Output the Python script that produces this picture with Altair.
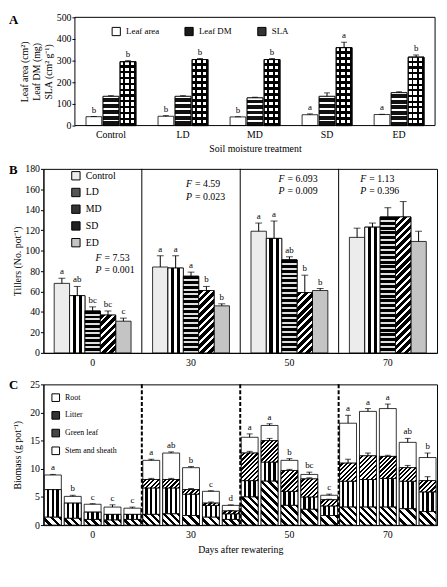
import math
import altair as alt
import pandas as pd

FONT = "Liberation Serif"

treat = ["Control", "LD", "MD", "SD", "ED"]
days = ["0", "30", "50", "70"]

# ---------------- Panel A ----------------
series_a = ["Leaf area", "Leaf DM", "SLA"]
leaf_area = [41, 43, 40, 50, 51]
leaf_area_err = [1, 3, 1, 4, 1]
leaf_area_let = ["b", "b", "b", "a", "a"]
leaf_dm = [135, 135, 128, 135, 152]
leaf_dm_err = [3, 3, 3, 16, 4]
sla = [295, 305, 305, 360, 316]
sla_err = [5, 5, 5, 25, 10]
sla_let = ["b", "b", "b", "a", "b"]

# ---------------- Panel B (tillers) ----------------
till_d0 = [68, 56, 41, 37, 31]
till_d30 = [84, 83, 75, 61, 46]
till_d50 = [119, 112, 91, 59, 61]
till_d70 = [113, 123, 133, 133, 109]
till_err_d0 = [5, 9, 4, 4, 3]
till_err_d30 = [11, 12, 4, 4, 2]
till_err_d50 = [8, 17, 3, 17, 2]
till_err_d70 = [9, 4, 9, 15, 10]
till_let_d0 = ["a", "ab", "bc", "bc", "c"]
till_let_d30 = ["a", "a", "a", "b", "b"]
till_let_d50 = ["a", "a", "ab", "b", "b"]
till_let_d70 = ["", "", "", "", ""]
fp_F = ["= 7.53", "= 4.59", "= 6.093", "= 1.13"]
fp_P = ["= 0.001", "= 0.023", "= 0.009", "= 0.396"]
fp_F_y = [93, 165, 170, 170]
fp_P_y = [81, 152, 158, 158]

# ---------------- Panel C (biomass, g/pot) ----------------
# order: day 0 (Control, LD, MD, SD, ED), day 30 (...), day 50 (...), day 70 (...)
stem = [1.4, 1.2, 1.0, 0.9, 1.0,
        1.9, 2.0, 1.7, 1.4, 1.0,
        5.0, 7.8, 3.5, 2.8, 1.7,
        3.2, 3.2, 3.2, 2.9, 2.4]
green = [4.9, 2.7, 1.3, 1.0, 0.9,
         4.7, 4.6, 3.8, 2.1, 1.0,
         2.9, 3.4, 2.5, 2.2, 1.7,
         4.6, 4.9, 5.1, 4.9, 3.5]
litter = [0, 0, 0, 0, 0,
          1.5, 1.5, 0.8, 0.4, 0.5,
          4.9, 3.8, 3.7, 3.2, 1.1,
          3.2, 4.2, 3.9, 2.4, 2.0]
root = [2.6, 1.2, 1.4, 1.3, 1.1,
        3.4, 4.7, 3.9, 2.1, 1.0,
        2.8, 2.7, 1.8, 0.8, 0.8,
        7.1, 7.9, 8.5, 4.5, 4.1]
total_err = [0.1, 0.2, 0.1, 0.4, 0.2,
             0.2, 0.2, 0.2, 0.1, 0.1,
             0.6, 0.3, 0.3, 0.4, 0.2,
             1.4, 0.5, 0.8, 0.7, 0.8]
litter_err = [0, 0, 0, 0, 0,
              0.2, 0.2, 0.2, 0.2, 0.1,
              0.3, 0.4, 0.2, 0.2, 0.1,
              0.7, 0.5, 0.2, 0.4, 0.7]
bio_let = ["a", "b", "c", "c", "c",
           "a", "ab", "b", "c", "d",
           "a", "a", "b", "bc", "c",
           "a", "a", "a", "ab", "b"]
components = ["Root", "Litter", "Green leaf", "Stem and sheath"]


# ---------------- pattern helpers (gradients with hard stops) ----------------
def seg_stops(pattern, n):
    total = sum(w for _, w in pattern) * n
    stops = []
    pos = 0.0
    for _ in range(n):
        for col, w in pattern:
            a = round(pos / total, 4)
            pos += w
            b = round(min(pos / total, 1.0), 4)
            stops.append(alt.GradientStop(color=col, offset=a))
            stops.append(alt.GradientStop(color=col, offset=b))
    return stops


def vgrad(pattern, n):
    return alt.LinearGradient(gradient="linear", stops=seg_stops(pattern, n), x1=0, y1=0, x2=1, y2=0)


def hgrad(pattern, n):
    return alt.LinearGradient(gradient="linear", stops=seg_stops(pattern, n), x1=0, y1=0, x2=0, y2=1)


def dgrad(pattern, w, h, period, slash=True):
    h = max(h, 1.0)
    k = (w + h) / (w * w + h * h)
    a, b = k * w, k * h
    n = max(1, round((w + h) / (math.sqrt(2) * period)))
    if slash:
        return alt.LinearGradient(gradient="linear", stops=seg_stops(pattern, n), x1=0, y1=0, x2=a, y2=b)
    return alt.LinearGradient(gradient="linear", stops=seg_stops(pattern, n), x1=0, y1=1, x2=a, y2=1 - b)


SW = 0.8      # bar outline width
W = 400       # common panel width
LETTER_X = -35


def panel_letter(txt, y):
    return alt.Chart(pd.DataFrame({"t": [txt]})).mark_text(
        font=FONT, fontSize=13, fontWeight="bold", align="left", baseline="middle", color="black"
    ).encode(text="t:N", x=alt.value(LETTER_X), y=alt.value(y))


# ======================= Panel A =======================
HA = 110
A_L, A_R = 32, 398          # inner frame of panel A (narrower than B and C)
ppuA = HA / 500

rowsA = []
for i, t in enumerate(treat):
    for s, v, e, l in [("Leaf area", leaf_area[i], leaf_area_err[i], leaf_area_let[i]),
                       ("Leaf DM", leaf_dm[i], leaf_dm_err[i], ""),
                       ("SLA", sla[i], sla_err[i], sla_let[i])]:
        rowsA.append(dict(treatment=t, series=s, value=v, top=v + e, letter=l, key=f"{t}|{s}"))
dfA = pd.DataFrame(rowsA)

xA = alt.X("treatment:N", scale=alt.Scale(domain=treat, range=[A_L, A_R], paddingInner=0, paddingOuter=0),
           axis=alt.Axis(title="Soil moisture treatment", labelAngle=0, ticks=False, domain=False,
                         labelPadding=4, titlePadding=4, titleX=(A_L + A_R) / 2))
xoA = alt.XOffset("series:N", scale=alt.Scale(domain=series_a, paddingInner=0.08, paddingOuter=0.65))


def yA(f):
    return alt.Y(f"{f}:Q", scale=alt.Scale(domain=[0, 500], nice=False),
                 axis=alt.Axis(title=["Leaf area (cm²)", "Leaf DM (mg)", "SLA (cm² g⁻¹)"],
                               values=list(range(0, 501, 100)), titlePadding=3, offset=-A_L,
                               domain=False))


legA = alt.Legend(title=None, orient="none", legendX=A_L + 37, legendY=9, direction="horizontal",
                  symbolType="square", symbolSize=70, symbolStrokeColor="black", symbolStrokeWidth=1,
                  labelOffset=5, gridAlign="all", columnPadding=23, labelFontSize=9)

baseA = alt.Chart(dfA).mark_bar(stroke="black", strokeWidth=SW).encode(
    x=xA, xOffset=xoA, y=yA("value"),
    fill=alt.Fill("series:N", scale=alt.Scale(domain=series_a, range=["white", "#1a1a1a", "#333333"]),
                  legend=legA))
layersA = [baseA]
for i, t in enumerate(treat):
    h = leaf_dm[i] * ppuA
    g = hgrad([("white", 0.3), ("#111111", 0.7)], max(1, round(h / 5.5)))
    layersA.append(alt.Chart(dfA).transform_filter(alt.datum.key == f"{t}|Leaf DM").mark_bar(
        fill=g, stroke="black", strokeWidth=SW).encode(x=xA, xOffset=xoA, y=yA("value")))
    h = sla[i] * ppuA
    g1 = hgrad([("white", 0.62), ("black", 0.38)], max(1, round(h / 6)))
    g2 = vgrad([("rgba(0,0,0,0)", 0.62), ("black", 0.38)], 3)
    for g in (g1, g2):
        layersA.append(alt.Chart(dfA).transform_filter(alt.datum.key == f"{t}|SLA").mark_bar(
            fill=g, stroke="black", strokeWidth=SW).encode(x=xA, xOffset=xoA, y=yA("value")))

errA = alt.Chart(dfA).mark_rule(color="black", strokeWidth=1).encode(
    x=xA, xOffset=xoA, y=yA("value"), y2="top:Q")
capA = alt.Chart(dfA).mark_tick(orient="horizontal", size=6, thickness=1, color="black").encode(
    x=xA, xOffset=xoA, y=yA("top"))
letA = alt.Chart(dfA).transform_filter(alt.datum.letter != "").mark_text(
    font=FONT, fontSize=9, baseline="bottom", dy=-2, color="black").encode(
    x=xA, xOffset=xoA, y=yA("top"), text="letter:N")
frameA = alt.Chart(pd.DataFrame({"f": [0]})).mark_rect(
    fillOpacity=0, stroke="black", strokeWidth=1).encode(
    x=alt.value(A_L), x2=alt.value(A_R), y=alt.value(0), y2=alt.value(HA))
panelA = alt.layer(*layersA, errA, capA, letA, frameA, panel_letter("A", 3)).properties(
    width=W, height=HA, view=alt.ViewBackground(strokeOpacity=0))

# ======================= Panel B =======================
HB = 187
ppuB = HB / 180
bwB = (W / 4) / (5 + 1.4)

tv = [till_d0, till_d30, till_d50, till_d70]
te = [till_err_d0, till_err_d30, till_err_d50, till_err_d70]
tl = [till_let_d0, till_let_d30, till_let_d50, till_let_d70]
rowsB = []
for di, d in enumerate(days):
    for i, t in enumerate(treat):
        rowsB.append(dict(day=d, treatment=t, value=tv[di][i], top=tv[di][i] + te[di][i],
                          letter=tl[di][i], key=f"{d}|{t}"))
dfB = pd.DataFrame(rowsB)

axXB = alt.Axis(title=None, labelAngle=0, ticks=False, labelPadding=5)
scXB = alt.Scale(domain=days, paddingInner=0, paddingOuter=0)
xB = alt.X("day:N", scale=scXB, axis=axXB)
xoB = alt.XOffset("treatment:N", scale=alt.Scale(domain=treat, paddingInner=0, paddingOuter=0.7))


def yB(f):
    return alt.Y(f"{f}:Q", scale=alt.Scale(domain=[0, 180], nice=False),
                 axis=alt.Axis(title="Tillers (No. pot⁻¹)", values=list(range(0, 181, 20)),
                               titlePadding=2))


legB = alt.Legend(title=None, orient="none", legendX=28, legendY=2, direction="vertical",
                  symbolType="square", symbolSize=72, symbolStrokeColor="black", symbolStrokeWidth=1,
                  labelOffset=5, rowPadding=3, labelFontSize=10)
baseB = alt.Chart(dfB).mark_bar(stroke="black", strokeWidth=SW).encode(
    x=xB, xOffset=xoB, y=yB("value"),
    fill=alt.Fill("treatment:N", scale=alt.Scale(domain=treat,
                                                 range=["#ececec", "#555555", "#333333", "#222222", "#c4c4c4"]),
                  legend=legB))
layersB = [baseB]
gLD = vgrad([("white", 1), ("black", 1), ("white", 1), ("black", 1), ("white", 1)], 1)
layersB.append(alt.Chart(dfB).transform_filter(alt.datum.treatment == "LD").mark_bar(
    fill=gLD, stroke="black", strokeWidth=SW).encode(x=xB, xOffset=xoB, y=yB("value")))
for di, d in enumerate(days):
    h = tv[di][2] * ppuB
    g = hgrad([("black", 0.6), ("#e0e0e0", 0.4)], max(1, round(h / 5)))
    layersB.append(alt.Chart(dfB).transform_filter(alt.datum.key == f"{d}|MD").mark_bar(
        fill=g, stroke="black", strokeWidth=SW).encode(x=xB, xOffset=xoB, y=yB("value")))
    h = tv[di][3] * ppuB
    g = dgrad([("black", 0.62), ("white", 0.38)], bwB, h, 5.5, slash=True)
    layersB.append(alt.Chart(dfB).transform_filter(alt.datum.key == f"{d}|SD").mark_bar(
        fill=g, stroke="black", strokeWidth=SW).encode(x=xB, xOffset=xoB, y=yB("value")))

errB = alt.Chart(dfB).mark_rule(color="black", strokeWidth=1).encode(
    x=xB, xOffset=xoB, y=yB("value"), y2="top:Q")
capB = alt.Chart(dfB).mark_tick(orient="horizontal", size=7, thickness=1, color="black").encode(
    x=xB, xOffset=xoB, y=yB("top"))
letB = alt.Chart(dfB).transform_filter(alt.datum.letter != "").mark_text(
    font=FONT, fontSize=9, baseline="bottom", dy=-2, color="black").encode(
    x=xB, xOffset=xoB, y=yB("top"), text="letter:N")
sepB = alt.Chart(pd.DataFrame({"day": days[:-1]})).mark_rule(color="black", strokeWidth=1).encode(
    x=alt.X("day:N", bandPosition=1, scale=scXB, axis=axXB))

dfFP = pd.DataFrame({"day": days, "F": fp_F, "P": fp_P, "fy": fp_F_y, "py": fp_P_y})
fp_dx = [10, 2, -4, -21]
fpLayers = []
for di, d in enumerate(days):
    sub = alt.Chart(dfFP).transform_filter(alt.datum.day == d)
    for sym, fld, yf in [("F", "F", "fy"), ("P", "P", "py")]:
        fpLayers.append(sub.mark_text(font=FONT, fontSize=10, fontStyle="italic", align="right",
                                      baseline="middle", dx=fp_dx[di] - 1, color="black", text=sym).encode(
            x=alt.X("day:N", bandPosition=0.5, scale=scXB, axis=axXB), y=yB(yf)))
        fpLayers.append(sub.mark_text(font=FONT, fontSize=10, align="left", baseline="middle",
                                      dx=fp_dx[di] + 2, color="black").encode(
            x=alt.X("day:N", bandPosition=0.5, scale=scXB, axis=axXB), y=yB(yf), text=f"{fld}:N"))

panelB = alt.layer(*layersB, errB, capB, letB, sepB, *fpLayers, panel_letter("B", 1)).properties(
    width=W, height=HB)

# ======================= Panel C =======================
HC = 143
ppuC = HC / 25
bwC = (W / 4) / (5 - 0.15 + 0.1) * 0.85

rowsC = []
topsC = []
for k in range(20):
    d, t = days[k // 5], treat[k % 5]
    cum = 0.0
    litter_top = 0.0
    for comp, arr in [("Stem and sheath", stem), ("Green leaf", green), ("Litter", litter), ("Root", root)]:
        v = arr[k]
        rowsC.append(dict(day=d, treatment=t, component=comp, start=cum, end=cum + v, h=v,
                          key=f"{d}|{t}|{comp}"))
        cum += v
        if comp == "Litter":
            litter_top = cum
    topsC.append(dict(day=d, treatment=t, value=cum, top=cum + total_err[k], letter=bio_let[k]))
    if litter_err[k] > 0:
        topsC.append(dict(day=d, treatment=t, value=litter_top, top=litter_top + litter_err[k], letter=""))
dfC = pd.DataFrame(rowsC)
dfCt = pd.DataFrame(topsC)

axXC = alt.Axis(title="Days after rewatering", labelAngle=0, ticks=False, labelPadding=5, titlePadding=5)
scXC = alt.Scale(domain=days, paddingInner=0, paddingOuter=0)
xC = alt.X("day:N", scale=scXC, axis=axXC)
xoC = alt.XOffset("treatment:N", scale=alt.Scale(domain=treat, paddingInner=0.15, paddingOuter=0.05))


def yC(f):
    return alt.Y(f"{f}:Q", scale=alt.Scale(domain=[0, 25], nice=False),
                 axis=alt.Axis(title="Biomass (g pot⁻¹)", values=list(range(0, 26, 5)), titlePadding=7))


legC = alt.Legend(title=None, orient="none", legendX=8, legendY=9, direction="vertical",
                  symbolType="square", symbolSize=60, symbolStrokeColor="black", symbolStrokeWidth=1,
                  labelOffset=5, rowPadding=5, labelFontSize=8)
dfCnz = dfC[dfC["h"] > 0]
baseC = alt.Chart(dfCnz).mark_bar(stroke="black", strokeWidth=SW).encode(
    x=xC, xOffset=xoC, y=yC("start"), y2="end:Q",
    fill=alt.Fill("component:N", scale=alt.Scale(domain=components,
                                                 range=["white", "#333333", "#444444", "white"]),
                  legend=legC))
layersC = [baseC]
gGreen = vgrad([("white", 1), ("black", 1), ("white", 1), ("black", 1), ("white", 1), ("black", 1),
                ("white", 1)], 1)
layersC.append(alt.Chart(dfCnz).transform_filter(alt.datum.component == "Green leaf").mark_bar(
    fill=gGreen, stroke="black", strokeWidth=SW).encode(x=xC, xOffset=xoC, y=yC("start"), y2="end:Q"))
for r in rowsC:
    if r["h"] <= 0:
        continue
    hp = r["h"] * ppuC
    if r["component"] == "Stem and sheath":
        g = dgrad([("white", 0.55), ("black", 0.45)], bwC, hp, 5.5, slash=False)
    elif r["component"] == "Litter":
        g = dgrad([("white", 0.5), ("black", 0.5)], bwC, hp, 3.2, slash=True)
    else:
        continue
    layersC.append(alt.Chart(dfCnz).transform_filter(alt.datum.key == r["key"]).mark_bar(
        fill=g, stroke="black", strokeWidth=SW).encode(x=xC, xOffset=xoC, y=yC("start"), y2="end:Q"))

errC = alt.Chart(dfCt).mark_rule(color="black", strokeWidth=1).encode(
    x=xC, xOffset=xoC, y=yC("value"), y2="top:Q")
capC = alt.Chart(dfCt).mark_tick(orient="horizontal", size=6, thickness=1, color="black").encode(
    x=xC, xOffset=xoC, y=yC("top"))
letC = alt.Chart(dfCt).transform_filter(alt.datum.letter != "").mark_text(
    font=FONT, fontSize=9, baseline="bottom", dy=-2, color="black").encode(
    x=xC, xOffset=xoC, y=yC("top"), text="letter:N")
sepC = alt.Chart(pd.DataFrame({"day": days[:-1]})).mark_rule(
    color="black", strokeWidth=2, strokeDash=[4, 2]).encode(
    x=alt.X("day:N", bandPosition=1, scale=scXC, axis=axXC))

panelC = alt.layer(*layersC, errC, capC, letC, sepC, panel_letter("C", 1)).properties(
    width=W, height=HC)

chart = alt.vconcat(panelA, panelB, panelC, spacing=10).resolve_scale(
    x="independent", y="independent", xOffset="independent", fill="independent"
).resolve_legend(fill="independent").resolve_axis(x="independent", y="independent").properties(
    padding={"left": 0, "top": 0, "right": 1, "bottom": 0}
).configure_view(stroke="black", strokeWidth=1).configure_axis(
    labelFont=FONT, titleFont=FONT, labelFontSize=10, titleFontSize=10, titleFontWeight="normal",
    grid=False, domainColor="black", tickColor="black", labelColor="black", titleColor="black",
    tickSize=3, labelPadding=1
).configure_legend(labelFont=FONT, labelColor="black").configure_text(font=FONT)

chart.save("out.html", embed_options={"renderer": "svg", "actions": False})
